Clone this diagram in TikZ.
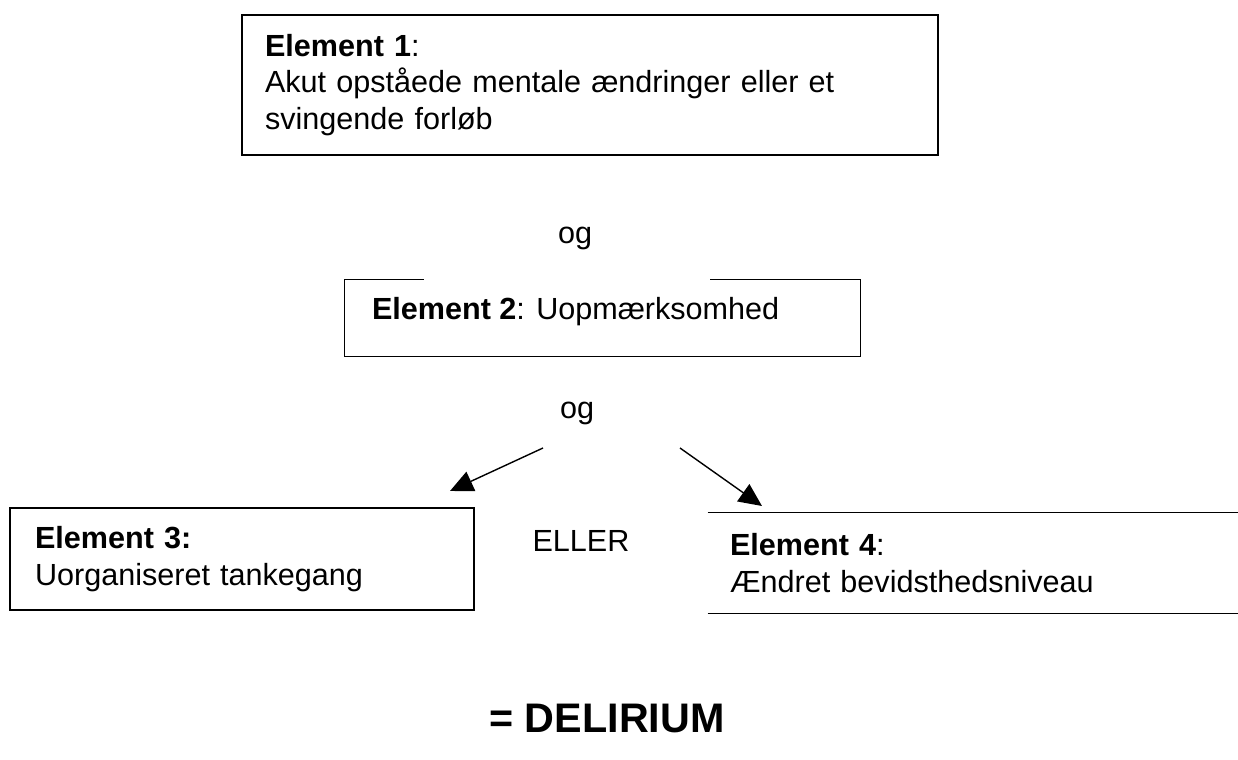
\documentclass[tikz,border=0pt]{standalone}
\usepackage{fontspec}
\setmainfont{Liberation Sans}
\usepackage{tikz}
\usetikzlibrary{arrows.meta, positioning, calc}

\begin{document}
\begin{tikzpicture}[x=0.02cm, y=-0.02cm,
    elem/.style={align=left, inner xsep=0pt, inner ysep=0pt,
                 font=\fontsize{17.4}{20.8}\selectfont},
    word/.style={inner sep=0pt, font=\fontsize{17.4}{20.8}\selectfont},
    arr/.style={-{Triangle[length=0.46cm, width=0.42cm]}, line width=0.8pt},
    edge/.style={line width=0.8pt}
]
\useasboundingbox (0,0) rectangle (1238,760);

% element boxes
\node[elem, draw, line width=0.8pt, minimum width=13.92cm, minimum height=2.8cm,
      text width=13cm, inner xsep=0.46cm] (e1) at (590, 85)
     {\textbf{Element 1}:\\Akut opståede mentale ændringer eller et\\svingende forløb};
\node[word] (og1) at (575, 238) {og};
\node[minimum width=10.3cm, minimum height=1.52cm, inner sep=0pt] (e2) at (602.5, 318) {};
\draw[edge] ([xshift=1.58cm]e2.north west) -- (e2.north west) -- (e2.south west)
            -- (e2.south east) -- (e2.north east) -- ([xshift=-3cm]e2.north east);
\node[word, anchor=west] (e2t) at ([xshift=0.54cm, yshift=0.12cm]e2.west)
     {\textbf{Element 2}: Uopmærksomhed};
\node[word] (og2) at (577, 413) {og};

\node[elem, draw, line width=0.8pt, minimum width=9.28cm, minimum height=2.04cm,
      text width=8.28cm, inner xsep=0.5cm] (e3) at (242, 559)
     {\textbf{Element 3:}\\Uorganiseret tankegang};
\node[word] (eller) at (581, 541) {ELLER};
\node[elem, minimum width=10.6cm, minimum height=2cm,
      text width=9.72cm, inner xsep=0.44cm] (e4) at (973, 563)
     {\textbf{Element 4}:\\Ændret bevidsthedsniveau};
\draw[edge] (e4.north west) -- (e4.north east);
\draw[edge] (e4.south west) -- (e4.south east);

% arrows
\coordinate (l0) at (543, 448);
\coordinate (l1) at (450, 491);
\coordinate (r0) at (680, 448);
\coordinate (r1) at (762, 506);
\draw[arr] (l0) -- (l1);
\draw[arr] (r0) -- (r1);

\node[inner sep=0pt, font=\fontsize{23.5}{26}\selectfont\bfseries] (res) at (607, 718)
     {= DELIRIUM};
\end{tikzpicture}
\end{document}
